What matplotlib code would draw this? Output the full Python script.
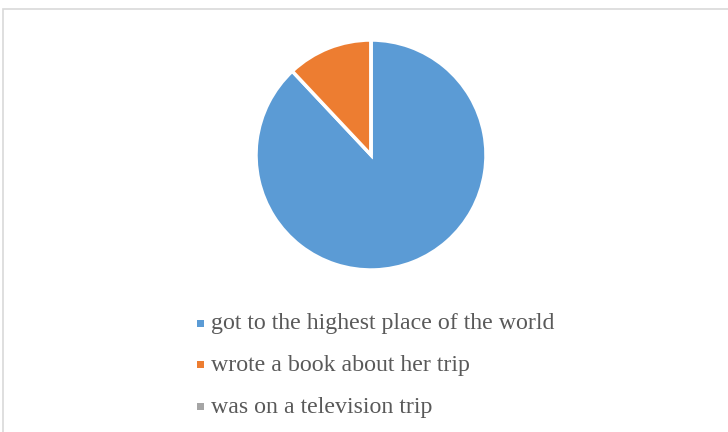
import matplotlib.pyplot as plt
from matplotlib.patches import Rectangle

# answers and share of each
labels = ['got to the highest place of the world',
          'wrote a book about her trip',
          'was on a television trip']
values = [88, 12, 0]
colors = ['#5b9bd5', '#ed7d31', '#a5a5a5']

W, H = 728, 432
fig = plt.figure(figsize=(W / 100, H / 100), dpi=100)

# chart area frame (runs off the right and bottom edge)
fig.patches.append(Rectangle((3 / W, -0.05), 1.05, 1 - 9 / H + 0.05,
                             transform=fig.transFigure, fill=False,
                             edgecolor='#d9d9d9', linewidth=1.2))

# pie, centre (371,155) radius 115 px
cx, cy, r = 371, 155, 115
ax = fig.add_axes([(cx - r) / W, 1 - (cy + r) / H, 2 * r / W, 2 * r / H])
ax.pie(values, colors=colors, startangle=90, counterclock=False, radius=1,
       wedgeprops=dict(edgecolor='white', linewidth=2.5))
ax.set_xlim(-1, 1)
ax.set_ylim(-1, 1)
ax.axis('off')

# legend rows
rows_y = [323, 364, 406]
for lab, col, y in zip(labels, colors, rows_y):
    fig.patches.append(Rectangle((197 / W, 1 - (y + 3.5) / H), 7 / W, 7 / H,
                                 transform=fig.transFigure, facecolor=col,
                                 edgecolor='none'))
    fig.text(211 / W, 1 - (y + 1) / H, lab, family='Liberation Serif',
             fontsize=17.2, color='#595959', va='center', ha='left')

fig.savefig('out.png', dpi=100)
